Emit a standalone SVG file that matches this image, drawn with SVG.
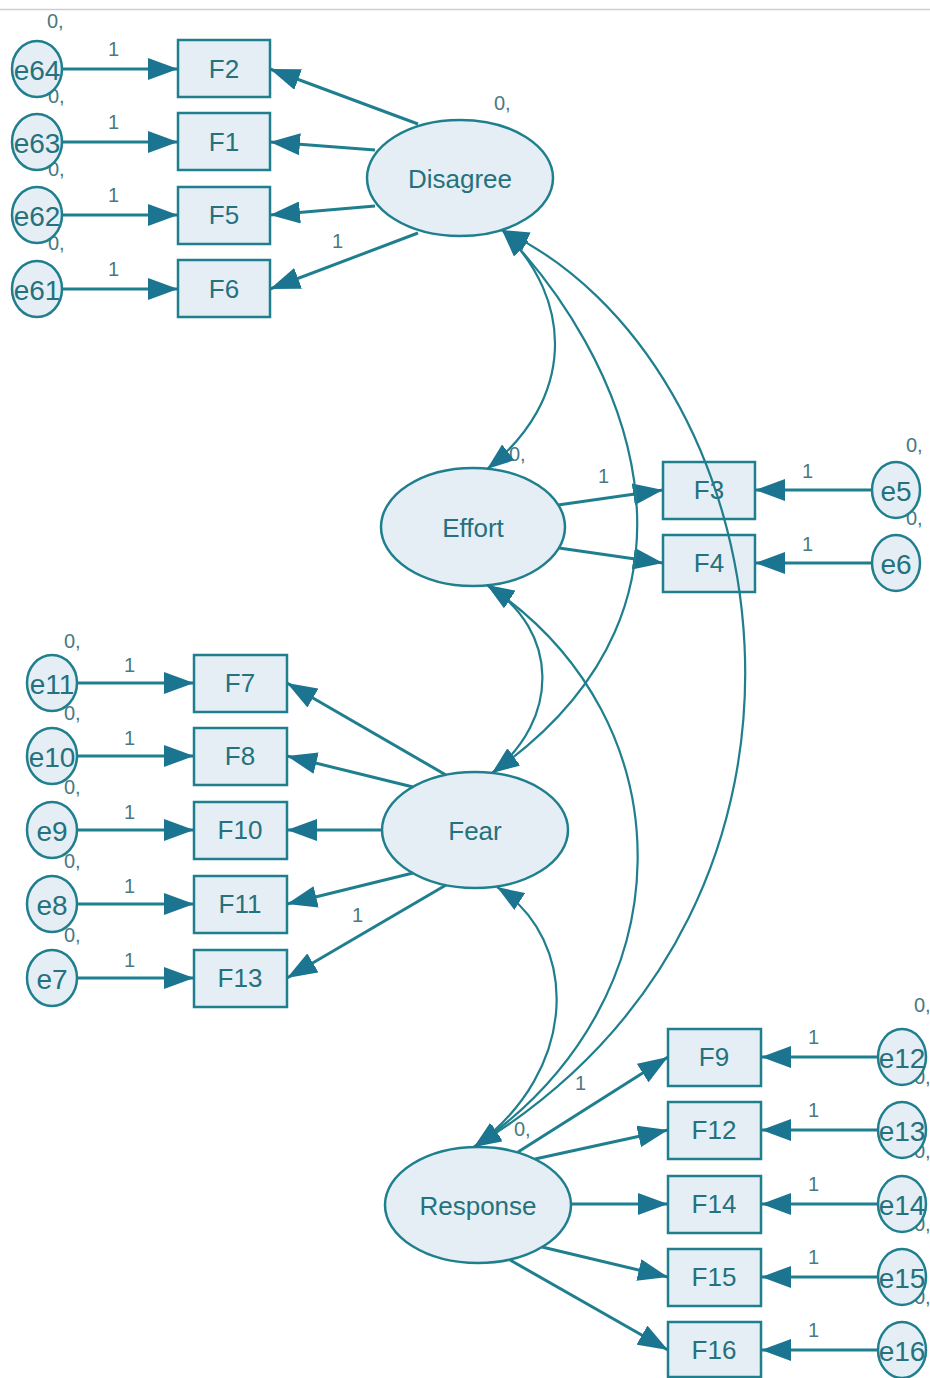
<svg xmlns="http://www.w3.org/2000/svg" width="930" height="1378" viewBox="0 0 930 1378">
<style>
.lat{fill:#e4eef4;stroke:#1f7f8e;stroke-width:2.5}
.obs{fill:#e4eef4;stroke:#1f7f8e;stroke-width:2.5}
.err{fill:#e4eef4;stroke:#1f7f8e;stroke-width:2.5}
.t{font-family:"Liberation Sans",Arial,sans-serif;fill:#25717e;text-anchor:middle;dominant-baseline:central}
.tl{font-size:26px}
.te{font-size:28px}
.lb{font-family:"Liberation Sans",Arial,sans-serif;font-size:20px;fill:#4a7884}
.reg{fill:none;stroke:#1f7f8e;stroke-width:3;marker-end:url(#ah)}
.cov{fill:none;stroke:#1f7f8e;stroke-width:2.2;marker-start:url(#ah2);marker-end:url(#ah2)}
</style>
<defs>
<marker id="ah" markerUnits="userSpaceOnUse" markerWidth="30" markerHeight="22" viewBox="0 0 30 22" refX="30" refY="11" orient="auto"><path d="M0,0 L30,11 L0,22 z" fill="#1b7490"/></marker>
<marker id="ah2" markerUnits="userSpaceOnUse" markerWidth="27" markerHeight="20" viewBox="0 0 27 20" refX="27" refY="10" orient="auto-start-reverse"><path d="M0,0 L27,10 L0,20 z" fill="#1b7490"/></marker>
</defs>
<rect width="930" height="1378" fill="#ffffff"/>
<line x1="0" y1="9.5" x2="930" y2="9.5" stroke="#cfcfcf" stroke-width="1.5"/>

<g id="labels">
<text class="lb" x="47" y="28">0,</text>
<text class="lb" x="48" y="103">0,</text>
<text class="lb" x="48" y="176">0,</text>
<text class="lb" x="48" y="250">0,</text>
<text class="lb" x="494" y="110">0,</text>
<text class="lb" x="509" y="461">0,</text>
<text class="lb" x="906" y="452">0,</text>
<text class="lb" x="906" y="525">0,</text>
<text class="lb" x="64" y="648">0,</text>
<text class="lb" x="64" y="720">0,</text>
<text class="lb" x="64" y="794">0,</text>
<text class="lb" x="64" y="868">0,</text>
<text class="lb" x="64" y="942">0,</text>
<text class="lb" x="914" y="1012">0,</text>
<text class="lb" x="914" y="1084">0,</text>
<text class="lb" x="914" y="1158">0,</text>
<text class="lb" x="914" y="1231">0,</text>
<text class="lb" x="914" y="1304">0,</text>
<text class="lb" x="514" y="1136">0,</text>
<text class="lb" x="108" y="56">1</text>
<text class="lb" x="108" y="129">1</text>
<text class="lb" x="108" y="202">1</text>
<text class="lb" x="108" y="276">1</text>
<text class="lb" x="332" y="248">1</text>
<text class="lb" x="598" y="483">1</text>
<text class="lb" x="802" y="478">1</text>
<text class="lb" x="802" y="551">1</text>
<text class="lb" x="124" y="672">1</text>
<text class="lb" x="124" y="745">1</text>
<text class="lb" x="124" y="819">1</text>
<text class="lb" x="124" y="893">1</text>
<text class="lb" x="124" y="967">1</text>
<text class="lb" x="352" y="922">1</text>
<text class="lb" x="575" y="1090">1</text>
<text class="lb" x="808" y="1044">1</text>
<text class="lb" x="808" y="1117">1</text>
<text class="lb" x="808" y="1191">1</text>
<text class="lb" x="808" y="1264">1</text>
<text class="lb" x="808" y="1337">1</text>
</g>

<g id="Disagree"><ellipse class="lat" cx="460" cy="178" rx="93" ry="58"/><text class="t tl" x="460" y="179">Disagree</text></g>
<g id="Effort"><ellipse class="lat" cx="473" cy="527" rx="92" ry="59"/><text class="t tl" x="473" y="528">Effort</text></g>
<g id="Fear"><ellipse class="lat" cx="475" cy="830" rx="93" ry="58"/><text class="t tl" x="475" y="831">Fear</text></g>
<g id="Response"><ellipse class="lat" cx="478" cy="1205" rx="93" ry="58"/><text class="t tl" x="478" y="1206">Response</text></g>

<g id="F2"><rect class="obs" x="178" y="40" width="92" height="57"/><text class="t tl" x="224" y="69">F2</text></g>
<g id="F1"><rect class="obs" x="178" y="113" width="92" height="57"/><text class="t tl" x="224" y="142">F1</text></g>
<g id="F5"><rect class="obs" x="178" y="187" width="92" height="57"/><text class="t tl" x="224" y="215">F5</text></g>
<g id="F6"><rect class="obs" x="178" y="260" width="92" height="57"/><text class="t tl" x="224" y="289">F6</text></g>
<g id="F3"><rect class="obs" x="663" y="462" width="92" height="57"/><text class="t tl" x="709" y="490">F3</text></g>
<g id="F4"><rect class="obs" x="663" y="535" width="92" height="57"/><text class="t tl" x="709" y="563">F4</text></g>
<g id="F7"><rect class="obs" x="194" y="655" width="93" height="57"/><text class="t tl" x="240" y="683">F7</text></g>
<g id="F8"><rect class="obs" x="194" y="728" width="93" height="57"/><text class="t tl" x="240" y="756">F8</text></g>
<g id="F10"><rect class="obs" x="194" y="802" width="93" height="57"/><text class="t tl" x="240" y="830">F10</text></g>
<g id="F11"><rect class="obs" x="194" y="876" width="93" height="57"/><text class="t tl" x="240" y="904">F11</text></g>
<g id="F13"><rect class="obs" x="194" y="950" width="93" height="57"/><text class="t tl" x="240" y="978">F13</text></g>
<g id="F9"><rect class="obs" x="668" y="1029" width="93" height="57"/><text class="t tl" x="714" y="1057">F9</text></g>
<g id="F12"><rect class="obs" x="668" y="1102" width="93" height="57"/><text class="t tl" x="714" y="1130">F12</text></g>
<g id="F14"><rect class="obs" x="668" y="1176" width="93" height="57"/><text class="t tl" x="714" y="1204">F14</text></g>
<g id="F15"><rect class="obs" x="668" y="1249" width="93" height="57"/><text class="t tl" x="714" y="1277">F15</text></g>
<g id="F16"><rect class="obs" x="668" y="1322" width="93" height="55"/><text class="t tl" x="714" y="1350">F16</text></g>

<g id="e64"><ellipse class="err" cx="37" cy="69" rx="25" ry="28"/><text class="t te" x="37" y="70">e64</text></g>
<g id="e63"><ellipse class="err" cx="37" cy="142" rx="25" ry="28"/><text class="t te" x="37" y="143">e63</text></g>
<g id="e62"><ellipse class="err" cx="37" cy="215" rx="25" ry="28"/><text class="t te" x="37" y="216">e62</text></g>
<g id="e61"><ellipse class="err" cx="37" cy="289" rx="25" ry="28"/><text class="t te" x="37" y="290">e61</text></g>
<g id="e5"><ellipse class="err" cx="896" cy="490" rx="24" ry="28"/><text class="t te" x="896" y="491">e5</text></g>
<g id="e6"><ellipse class="err" cx="896" cy="563" rx="24" ry="28"/><text class="t te" x="896" y="564">e6</text></g>
<g id="e11"><ellipse class="err" cx="52" cy="683" rx="25" ry="28"/><text class="t te" x="52" y="684">e11</text></g>
<g id="e10"><ellipse class="err" cx="52" cy="756" rx="25" ry="28"/><text class="t te" x="52" y="757">e10</text></g>
<g id="e9"><ellipse class="err" cx="52" cy="830" rx="25" ry="28"/><text class="t te" x="52" y="831">e9</text></g>
<g id="e8"><ellipse class="err" cx="52" cy="904" rx="25" ry="28"/><text class="t te" x="52" y="905">e8</text></g>
<g id="e7"><ellipse class="err" cx="52" cy="978" rx="25" ry="28"/><text class="t te" x="52" y="979">e7</text></g>
<g id="e12"><ellipse class="err" cx="902" cy="1057" rx="24" ry="28"/><text class="t te" x="902" y="1058">e12</text></g>
<g id="e13"><ellipse class="err" cx="902" cy="1130" rx="24" ry="28"/><text class="t te" x="902" y="1131">e13</text></g>
<g id="e14"><ellipse class="err" cx="902" cy="1204" rx="24" ry="28"/><text class="t te" x="902" y="1205">e14</text></g>
<g id="e15"><ellipse class="err" cx="902" cy="1277" rx="24" ry="28"/><text class="t te" x="902" y="1278">e15</text></g>
<g id="e16"><ellipse class="err" cx="902" cy="1350" rx="24" ry="28"/><text class="t te" x="902" y="1351">e16</text></g>

<g id="connectors">
<path class="reg" d="M62,69 L178,69"/>
<path class="reg" d="M62,142 L178,142"/>
<path class="reg" d="M62,215 L178,215"/>
<path class="reg" d="M62,289 L178,289"/>
<path class="reg" d="M418,124 L270,69"/>
<path class="reg" d="M375,150 L270,142"/>
<path class="reg" d="M375,206 L270,215"/>
<path class="reg" d="M418,233 L270,289"/>
<path class="reg" d="M558,505 L663,490"/>
<path class="reg" d="M559,548 L663,563"/>
<path class="reg" d="M872,490 L755,490"/>
<path class="reg" d="M872,563 L755,563"/>
<path class="reg" d="M77,683 L194,683"/>
<path class="reg" d="M77,756 L194,756"/>
<path class="reg" d="M77,830 L194,830"/>
<path class="reg" d="M77,904 L194,904"/>
<path class="reg" d="M77,978 L194,978"/>
<path class="reg" d="M446,775 L287,683"/>
<path class="reg" d="M413,787 L287,756"/>
<path class="reg" d="M382,830 L287,830"/>
<path class="reg" d="M413,873 L287,904"/>
<path class="reg" d="M446,885 L287,978"/>
<path class="reg" d="M518,1152 L668,1057"/>
<path class="reg" d="M535,1159 L668,1130"/>
<path class="reg" d="M571,1204 L668,1204"/>
<path class="reg" d="M542,1247 L668,1277"/>
<path class="reg" d="M510,1260 L668,1350"/>
<path class="reg" d="M878,1057 L761,1057"/>
<path class="reg" d="M878,1130 L761,1130"/>
<path class="reg" d="M878,1204 L761,1204"/>
<path class="reg" d="M878,1277 L761,1277"/>
<path class="reg" d="M878,1350 L761,1350"/>
<path class="cov" d="M502,230 C575,300 575,400 487,469"/>
<path class="cov" d="M502,230 C620,350 740,600 492,773"/>
<path class="cov" d="M502,230 C780,360 880,900 474,1147"/>
<path class="cov" d="M487,585 C560,630 560,720 492,773"/>
<path class="cov" d="M487,585 C690,720 690,1000 474,1147"/>
<path class="cov" d="M497,887 C580,940 580,1070 474,1147"/>
</g>
</svg>
